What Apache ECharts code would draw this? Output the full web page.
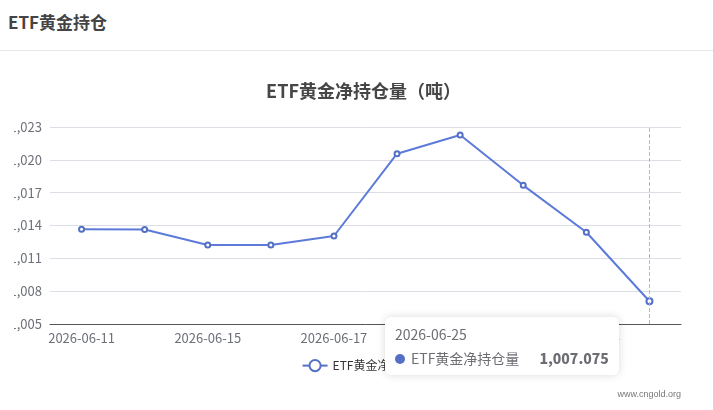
<!DOCTYPE html>
<html lang="zh-CN">
<head>
    <meta charset="UTF-8">
    <title>ETF黄金持仓</title>
    <script src="https://cdn.jsdelivr.net/npm/echarts@6/dist/echarts.min.js"></script>
    <style>
        * { box-sizing: border-box; margin: 0; padding: 0; }
        body {
            width: 713px;
            height: 410px;
            overflow: hidden;
            background: #fff;
            font-family: 'Noto Sans CJK SC', 'Noto Sans', sans-serif;
            position: relative;
        }
        .header {
            height: 51px;
            border-bottom: 1px solid #e6e6e6;
            padding: 9px 0 0 8px;
            font-size: 17px;
            font-weight: bold;
            color: #444;
        }
        #chart {
            position: absolute;
            left: 14px;
            top: 52px;
            width: 699px;
            height: 348px;
        }
        .mark {
            position: absolute;
            right: 32px;
            top: 389px;
            font-size: 9px;
            color: #777;
            font-family: 'Liberation Sans', sans-serif;
        }
    </style>
</head>
<body>
    <div class="header">ETF黄金持仓</div>
    <div id="chart"></div>
    <div class="mark">www.cngold.org</div>

    <script>
        const dates = ['2026-06-11', '2026-06-12', '2026-06-15', '2026-06-16', '2026-06-17',
                       '2026-06-18', '2026-06-22', '2026-06-23', '2026-06-24', '2026-06-25'];
        const holdings = [1013.66, 1013.64, 1012.22, 1012.21, 1013.04,
                          1020.56, 1022.27, 1017.67, 1013.38, 1007.075];
        const seriesName = 'ETF黄金净持仓量';

        const chart = echarts.init(document.getElementById('chart'));

        const fmt = v => v.toLocaleString('en-US', { maximumFractionDigits: 3 });

        chart.setOption({
            animation: false,
            textStyle: { fontFamily: "'Noto Sans CJK SC', sans-serif" },
            title: {
                text: 'ETF黄金净持仓量（吨）',
                left: 'center',
                top: 25,
                textStyle: { fontSize: 18, fontWeight: 'bold', color: '#464646' }
            },
            legend: {
                data: [seriesName],
                top: 302,
                left: 'center',
                textStyle: { color: '#333', fontSize: 12 }
            },
            tooltip: {
                trigger: 'axis',
                triggerOn: 'none',
                alwaysShowContent: true,
                position: () => [371, 265],
                borderWidth: 0,
                borderRadius: 6,
                extraCssText: 'box-shadow: 0 0 8px rgba(0,0,0,0.15);',
                valueFormatter: v => fmt(v)
            },
            grid: { left: 36, right: 32, top: 75, bottom: 76, containLabel: false, outerBoundsMode: 'none' },
            xAxis: {
                type: 'category',
                data: dates,
                boundaryGap: true,
                axisTick: { show: false },
                axisLabel: { interval: 1, color: '#6E7079', fontSize: 13 }
            },
            yAxis: {
                type: 'value',
                min: 1005,
                max: 1023,
                interval: 3,
                axisLabel: { formatter: v => fmt(v), color: '#6E7079', fontSize: 13 }
            },
            series: [{
                name: seriesName,
                type: 'line',
                data: holdings,
                symbol: 'emptyCircle',
                symbolSize: 5,
                lineStyle: { width: 2, color: '#5470c6' },
                itemStyle: { color: '#5470c6' }
            }]
        });

        setTimeout(() => {
            chart.dispatchAction({ type: 'showTip', seriesIndex: 0, dataIndex: 9 });
        }, 50);
    </script>
</body>
</html>
